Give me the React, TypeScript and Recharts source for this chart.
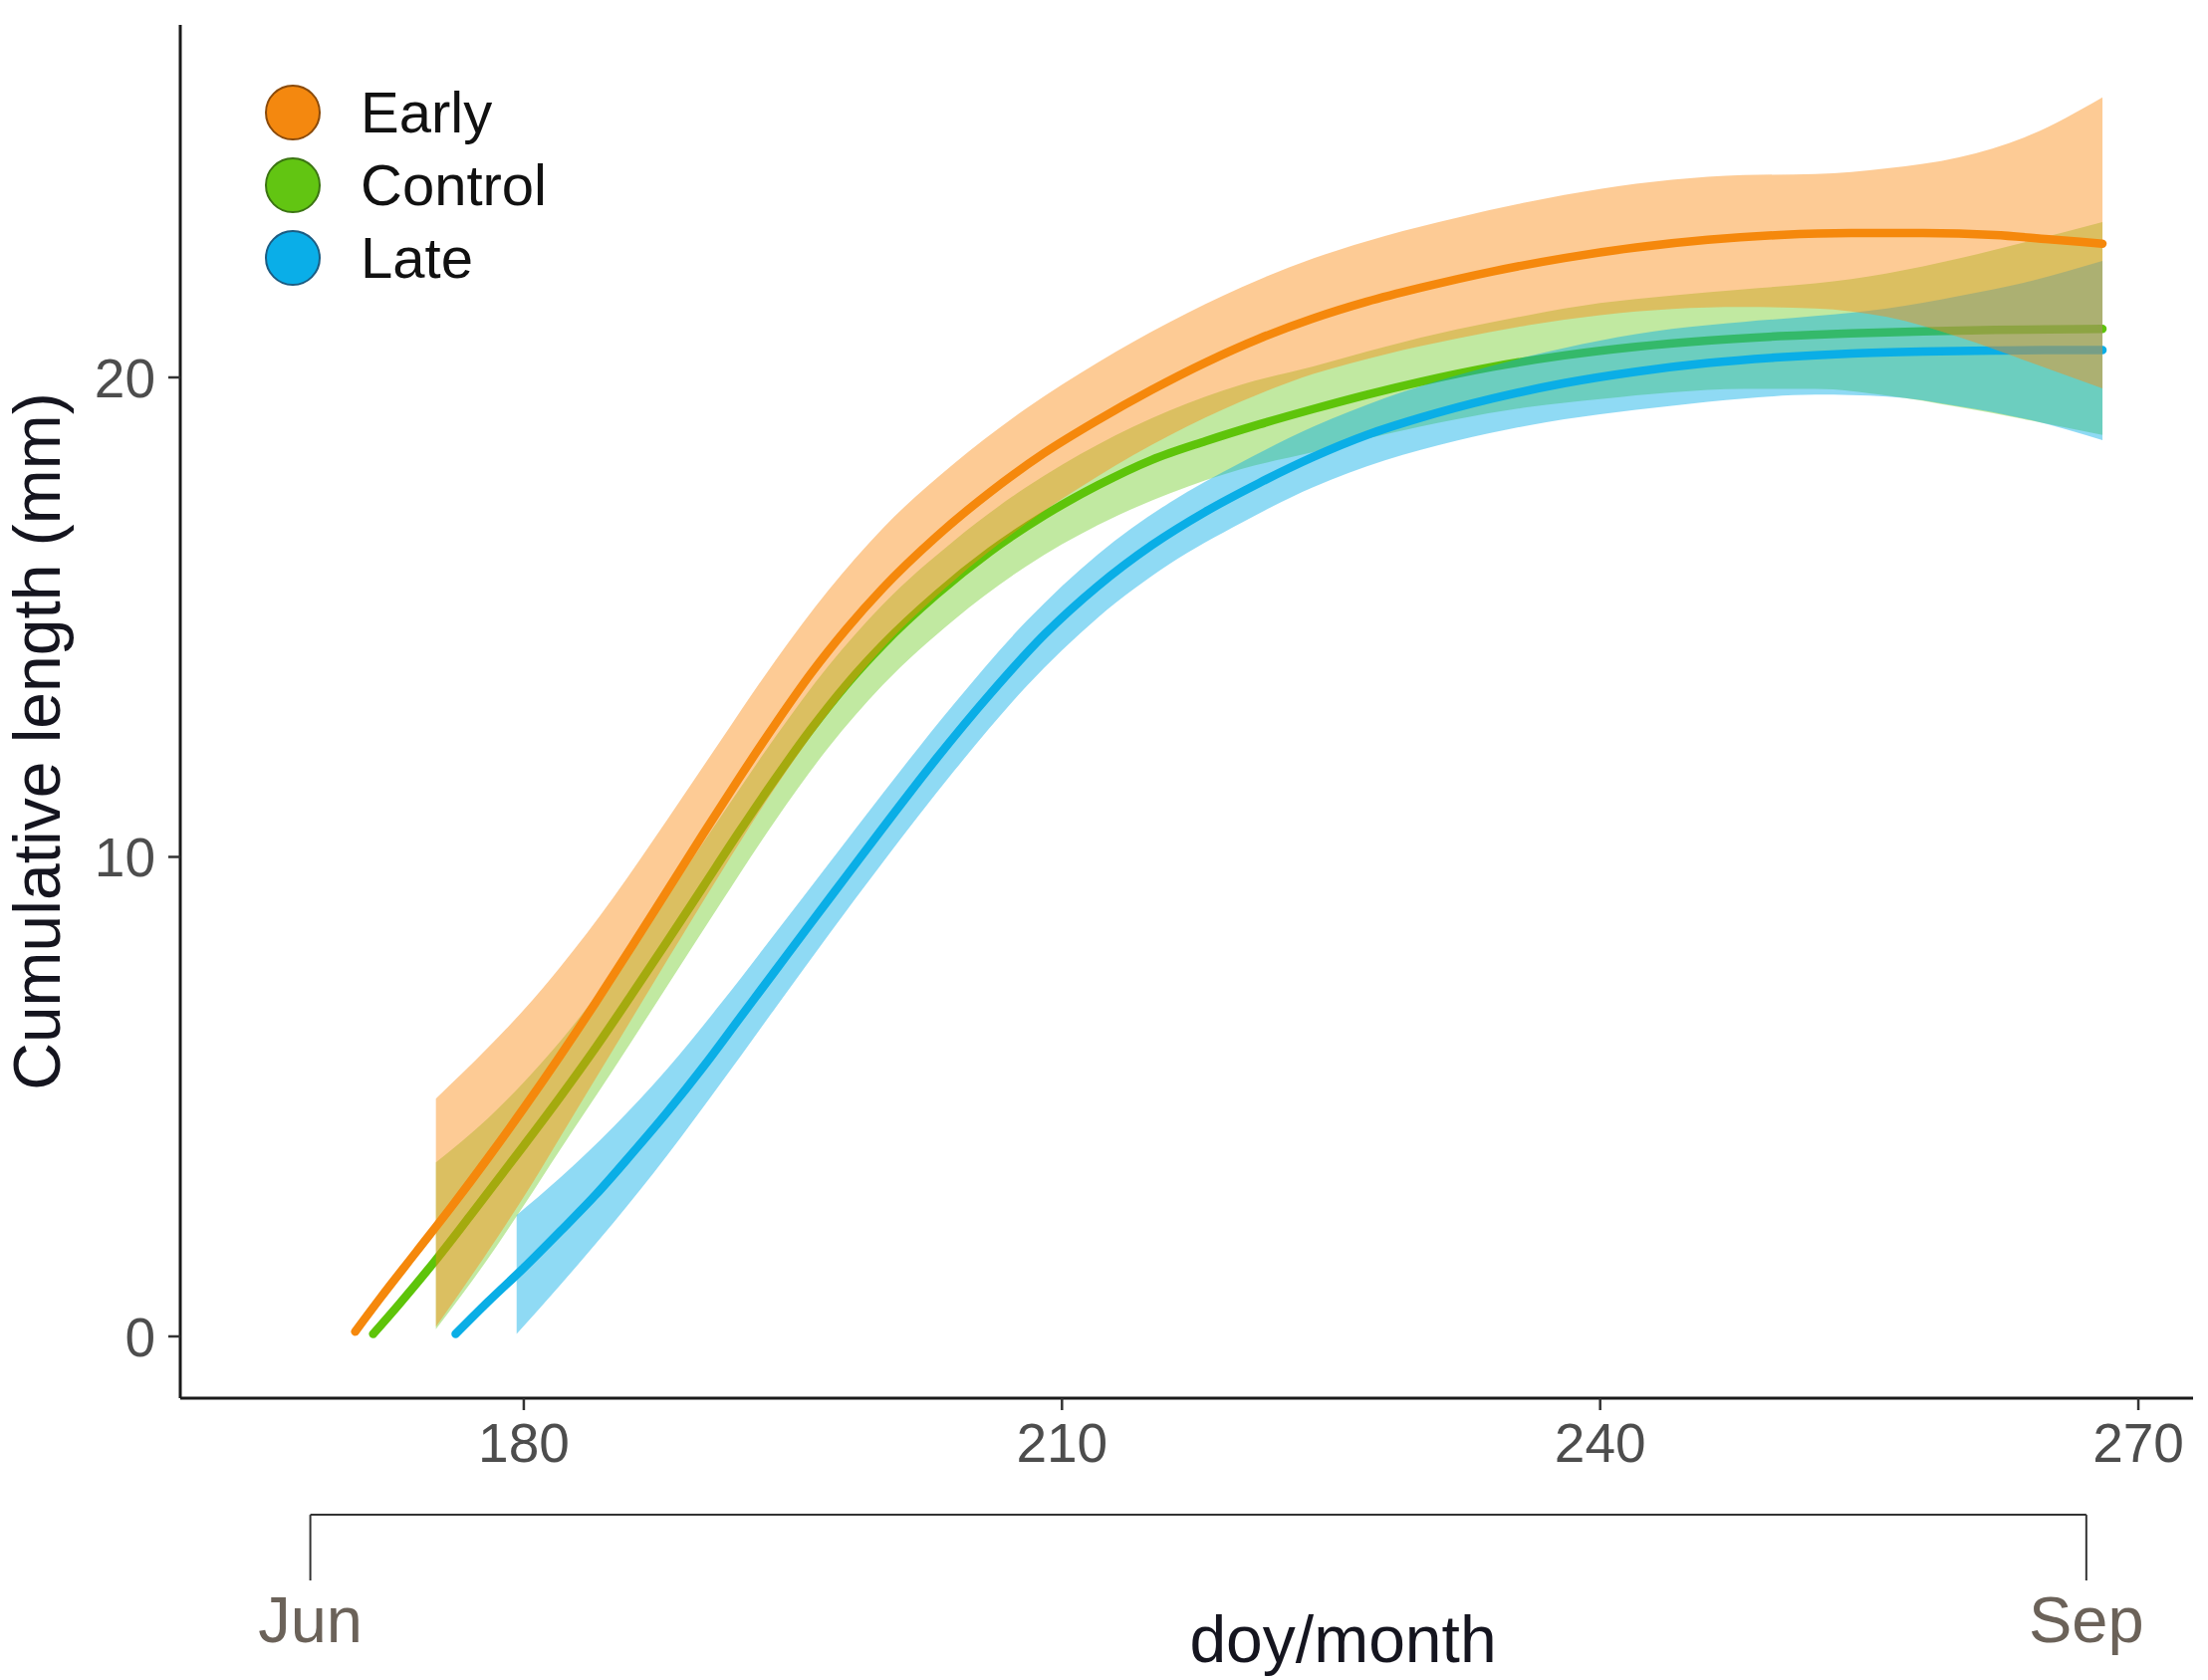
import React from 'react';
import { ComposedChart, Area, Line, XAxis, YAxis, Legend, ReferenceLine, Label } from 'recharts';

const FONT = '"Liberation Sans", Arial, Helvetica, sans-serif';

// fitted curves (doy -> cumulative length, mm)
const earlyX = [170.6, 172, 174, 176, 178, 180, 182, 184, 186, 188, 190, 192, 194, 196, 198, 200, 203, 206, 209, 212, 215, 218, 221, 224, 227, 230, 234, 238, 242, 246, 250, 254, 258, 262, 265, 268];
const earlyY = [0.1, 0.8, 1.76, 2.72, 3.72, 4.76, 5.84, 6.96, 8.12, 9.3, 10.48, 11.64, 12.76, 13.82, 14.76, 15.6, 16.68, 17.61, 18.42, 19.11, 19.74, 20.31, 20.81, 21.23, 21.58, 21.87, 22.21, 22.49, 22.71, 22.87, 22.97, 23.01, 23.01, 22.97, 22.88, 22.79];

const controlX = [171.6, 173, 175, 177, 180, 182, 184, 186, 188, 190, 192, 194, 196, 198, 200, 203, 206, 209, 212, 215, 218, 221, 224, 227, 230, 234, 238, 242, 246, 250, 254, 258, 262, 265, 268];
const controlY = [0.05, 0.65, 1.55, 2.51, 3.98, 4.98, 6.02, 7.12, 8.24, 9.38, 10.52, 11.62, 12.66, 13.6, 14.42, 15.47, 16.37, 17.12, 17.75, 18.28, 18.67, 19.02, 19.34, 19.64, 19.91, 20.22, 20.46, 20.64, 20.77, 20.86, 20.92, 20.96, 20.99, 21.0, 21.01];

const lateX = [176.2, 178, 180, 182, 184, 186, 188, 190, 192, 194, 196, 198, 200, 203, 206, 209, 212, 215, 218, 221, 224, 227, 230, 234, 238, 242, 246, 250, 254, 258, 262, 265, 268];
const lateY = [0.05, 0.72, 1.43, 2.18, 2.95, 3.8, 4.68, 5.62, 6.62, 7.62, 8.62, 9.61, 10.6, 12.05, 13.4, 14.63, 15.65, 16.5, 17.2, 17.8, 18.34, 18.8, 19.16, 19.56, 19.88, 20.12, 20.3, 20.42, 20.5, 20.54, 20.56, 20.57, 20.57];

// confidence bands
const bandX = [175.1, 178, 180, 182, 185, 188, 191, 194, 197, 200, 204, 208, 212, 216, 220, 224, 228, 232, 236, 240, 244, 248, 252, 256, 260, 264, 268];
const earlyLo = [0.2, 1.77, 2.91, 4.14, 5.99, 7.85, 9.68, 11.44, 13.01, 14.35, 15.77, 16.95, 17.94, 18.79, 19.5, 20.07, 20.48, 20.81, 21.09, 21.3, 21.43, 21.47, 21.44, 21.26, 20.84, 20.31, 19.77];
const earlyHi = [4.96, 6.02, 6.81, 7.69, 9.16, 10.78, 12.44, 14.08, 15.57, 16.85, 18.21, 19.35, 20.31, 21.15, 21.88, 22.48, 22.95, 23.33, 23.66, 23.93, 24.12, 24.22, 24.24, 24.36, 24.59, 25.06, 25.84];
const controlLo = [0.15, 1.62, 2.73, 3.88, 5.57, 7.31, 9.05, 10.75, 12.29, 13.58, 14.95, 16.06, 16.92, 17.58, 18.09, 18.44, 18.81, 19.13, 19.38, 19.55, 19.69, 19.76, 19.76, 19.62, 19.38, 19.1, 18.8];
const controlHi = [3.63, 4.55, 5.3, 6.14, 7.59, 9.18, 10.85, 12.49, 13.99, 15.26, 16.6, 17.71, 18.6, 19.31, 19.85, 20.23, 20.64, 21.0, 21.3, 21.55, 21.71, 21.84, 21.96, 22.17, 22.48, 22.85, 23.24];

const lateBandX = [179.6, 182, 185, 188, 191, 194, 197, 200, 204, 208, 212, 216, 220, 224, 228, 232, 236, 240, 244, 248, 252, 256, 260, 264, 268];
const lateLo = [0.05, 1.06, 2.37, 3.78, 5.29, 6.84, 8.38, 9.88, 11.8, 13.55, 14.99, 16.11, 16.97, 17.71, 18.27, 18.68, 19.0, 19.23, 19.41, 19.56, 19.64, 19.6, 19.4, 19.11, 18.69];
const lateHi = [2.53, 3.3, 4.37, 5.58, 6.95, 8.4, 9.86, 11.32, 13.2, 14.91, 16.31, 17.39, 18.23, 18.97, 19.57, 20.04, 20.44, 20.77, 21.01, 21.16, 21.28, 21.44, 21.7, 22.01, 22.43];

const xTicks = [180, 210, 240, 270];
const yTicks = [0, 10, 20];

// month bracket under the doy axis
const monthMarks = [
  { label: 'Jun', doy: 168.1 },
  { label: 'Sep', doy: 267.1 },
];
const bracketTop = -3.72;
const bracketBottom = -5.09;

const legendItems = [
  { name: 'Early', fill: '#f4880f', edge: '#8a4a0a' },
  { name: 'Control', fill: '#62c512', edge: '#3b7412' },
  { name: 'Late', fill: '#0aaee8', edge: '#1c5c82' },
];

const toLine = (xs: number[], ys: number[]) => xs.map((x, i) => ({ x, y: ys[i] }));
const toBand = (xs: number[], lo: number[], hi: number[]) => xs.map((x, i) => ({ x, range: [lo[i], hi[i]] }));

const earlyLine = toLine(earlyX, earlyY);
const controlLine = toLine(controlX, controlY);
const lateLine = toLine(lateX, lateY);
const earlyBand = toBand(bandX, earlyLo, earlyHi);
const controlBand = toBand(bandX, controlLo, controlHi);
const lateBand = toBand(lateBandX, lateLo, lateHi);

const LegendBox = () => (
  <div style={{ fontFamily: FONT }}>
    {legendItems.map((it) => (
      <div key={it.name} style={{ display: 'flex', alignItems: 'center', height: 73 }}>
        <span
          style={{
            width: 52,
            height: 52,
            borderRadius: '50%',
            background: it.fill,
            border: `2px solid ${it.edge}`,
            display: 'inline-block',
          }}
        />
        <span style={{ marginLeft: 40, fontSize: 58, color: '#111' }}>{it.name}</span>
      </div>
    ))}
  </div>
);

const YTitle = (props: any) => {
  const vb = props.viewBox;
  const cx = vb.x + 37;
  const cy = vb.y + vb.height / 2 + 30;
  return (
    <text
      transform={`translate(${cx},${cy}) rotate(-90)`}
      textAnchor="middle"
      dominantBaseline="central"
      fontFamily={FONT}
      fontSize={66}
      fill="#15151f"
    >
      Cumulative length (mm)
    </text>
  );
};

const XTitle = (props: any) => {
  const vb = props.viewBox;
  return (
    <text x={vb.x + vb.width / 2 + 157} y={vb.y + 265} textAnchor="middle" fontFamily={FONT} fontSize={66} fill="#15151f">
      doy/month
    </text>
  );
};

const App = () => (
  <div style={{ position: 'absolute', left: 0, top: 0, width: 2217, height: 1687, background: '#fff' }}>
    <ComposedChart width={2217} height={1687} margin={{ top: 25, right: 15, bottom: 0, left: 0 }}>
      <XAxis
        xAxisId="doy"
        dataKey="x"
        type="number"
        domain={[160.85, 273.05]}
        ticks={xTicks}
        allowDataOverflow
        height={283}
        tickSize={12}
        tickMargin={13}
        axisLine={{ stroke: '#1a1a1a', strokeWidth: 3 }}
        tickLine={{ stroke: '#333', strokeWidth: 2.5 }}
        tick={{ fill: '#4d4d4d', fontSize: 55, fontFamily: FONT }}
      >
        <Label content={XTitle} />
      </XAxis>
      <YAxis
        type="number"
        domain={[-1.288, 27.352]}
        ticks={yTicks}
        allowDataOverflow
        width={181}
        tickSize={12}
        tickMargin={13}
        axisLine={{ stroke: '#1a1a1a', strokeWidth: 3 }}
        tickLine={{ stroke: '#333', strokeWidth: 2.5 }}
        tick={{ fill: '#4d4d4d', fontSize: 55, fontFamily: FONT }}
      >
        <Label content={YTitle} />
      </YAxis>
      <Legend
        layout="vertical"
        align="center"
        verticalAlign="middle"
        content={LegendBox}
        wrapperStyle={{ left: 266, top: 76, width: 420, height: 230 }}
      />

      {/* drawn group by group: ribbon then line, like the source figure */}
      <Area xAxisId="doy" data={controlBand} dataKey="range" type="monotone" stroke="none" fill="#64c814" fillOpacity={0.4} isAnimationActive={false} legendType="none" zIndex={101} />
      <Line xAxisId="doy" data={controlLine} dataKey="y" type="monotone" stroke="#5ec40a" strokeWidth={8.5} strokeLinecap="round" dot={false} isAnimationActive={false} legendType="none" zIndex={102} />
      <Area xAxisId="doy" data={lateBand} dataKey="range" type="monotone" stroke="none" fill="#00aae6" fillOpacity={0.44} isAnimationActive={false} legendType="none" zIndex={103} />
      <Line xAxisId="doy" data={lateLine} dataKey="y" type="monotone" stroke="#0aaee6" strokeWidth={8.5} strokeLinecap="round" dot={false} isAnimationActive={false} legendType="none" zIndex={104} />
      <Area xAxisId="doy" data={earlyBand} dataKey="range" type="monotone" stroke="none" fill="#fa8c14" fillOpacity={0.45} isAnimationActive={false} legendType="none" zIndex={105} />
      <Line xAxisId="doy" data={earlyLine} dataKey="y" type="monotone" stroke="#f5880c" strokeWidth={8.5} strokeLinecap="round" dot={false} isAnimationActive={false} legendType="none" zIndex={106} />

      <ReferenceLine
        xAxisId="doy"
        segment={[{ x: monthMarks[0].doy, y: bracketTop }, { x: monthMarks[1].doy, y: bracketTop }]}
        ifOverflow="visible"
        stroke="#333"
        strokeWidth={2}
      />
      {monthMarks.map((m) => (
        <ReferenceLine
          key={m.label}
          xAxisId="doy"
          segment={[{ x: m.doy, y: bracketTop }, { x: m.doy, y: bracketBottom }]}
          ifOverflow="visible"
          stroke="#333"
          strokeWidth={2}
          label={{ value: m.label, position: 'bottom', offset: 16, fill: '#6b6259', fontSize: 65, fontFamily: FONT }}
        />
      ))}
    </ComposedChart>
  </div>
);

export default App;
